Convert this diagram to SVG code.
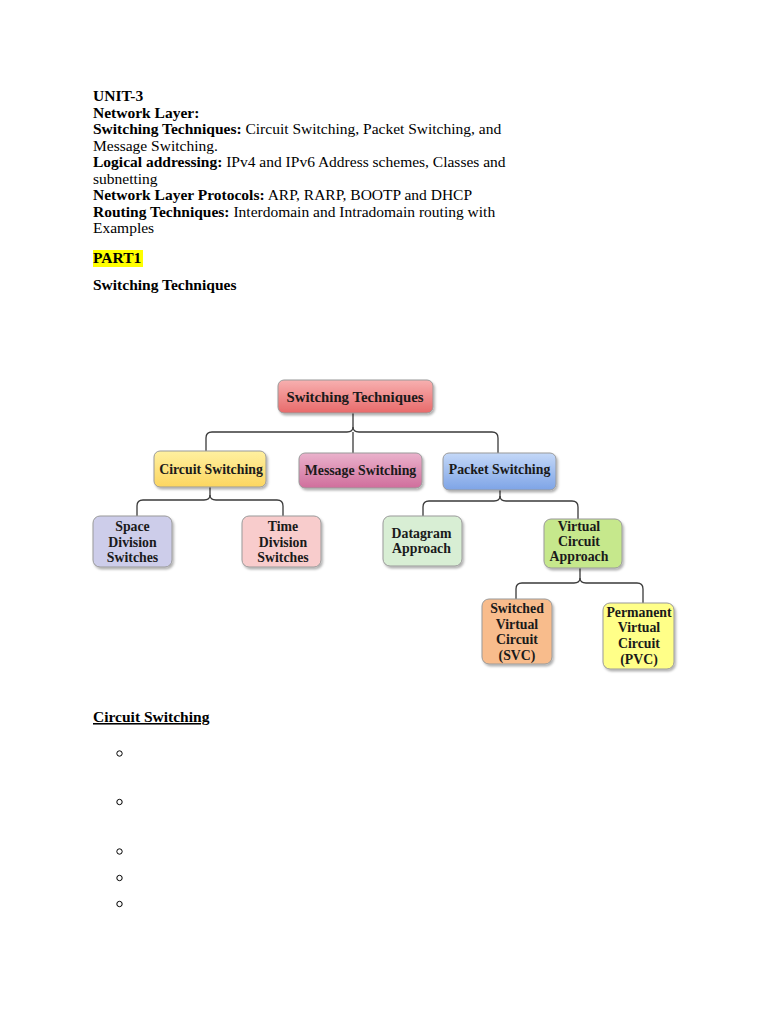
<svg xmlns="http://www.w3.org/2000/svg" width="768" height="1024" viewBox="0 0 768 1024">
<style>
.t{font-family:"Liberation Serif","Times New Roman",serif;font-size:15.5px;fill:#000}
.b{font-weight:bold}
.n{font-family:"Liberation Serif","Times New Roman",serif;font-size:13.8px;font-weight:bold;fill:#1a1a1a;text-anchor:middle}
.box{stroke:#9a9a9a;stroke-width:1;filter:url(#sh)}
.c{fill:none;stroke:#3a3a3a;stroke-width:1.3}
.bul{fill:none;stroke:#000;stroke-width:1}
</style>
<defs>
<filter id="sh" x="-10%" y="-10%" width="130%" height="140%">
<feDropShadow dx="1.5" dy="2" stdDeviation="1.2" flood-color="#000" flood-opacity="0.3"/>
</filter>
<linearGradient id="gRed" x1="0" y1="0" x2="0" y2="1"><stop offset="0" stop-color="#f7b0b0"/><stop offset="1" stop-color="#e86a6a"/></linearGradient>
<linearGradient id="gYel" x1="0" y1="0" x2="0" y2="1"><stop offset="0" stop-color="#fff0a0"/><stop offset="1" stop-color="#fcd660"/></linearGradient>
<linearGradient id="gPink" x1="0" y1="0" x2="0" y2="1"><stop offset="0" stop-color="#eab2cc"/><stop offset="1" stop-color="#d06e9c"/></linearGradient>
<linearGradient id="gBlue" x1="0" y1="0" x2="0" y2="1"><stop offset="0" stop-color="#c4d8f8"/><stop offset="1" stop-color="#7ea4e6"/></linearGradient>
</defs>
<rect width="768" height="1024" fill="#fff"/>

<g id="header">
<text class="t b" x="93" y="101">UNIT-3</text>
<text class="t b" x="93" y="117.5">Network Layer:</text>
<text class="t" x="93" y="134"><tspan class="b">Switching Techniques:</tspan> Circuit Switching, Packet Switching, and</text>
<text class="t" x="93" y="150.5">Message Switching.</text>
<text class="t" x="93" y="167"><tspan class="b">Logical addressing:</tspan> IPv4 and IPv6 Address schemes, Classes and</text>
<text class="t" x="93" y="183.5">subnetting</text>
<text class="t" x="93" y="200"><tspan class="b">Network Layer Protocols:</tspan> ARP, RARP, BOOTP and DHCP</text>
<text class="t" x="93" y="216.5"><tspan class="b">Routing Techniques:</tspan> Interdomain and Intradomain routing with</text>
<text class="t" x="93" y="233">Examples</text>
<rect x="93" y="250" width="50" height="17" fill="#ffff00"/>
<text class="t b" x="93" y="263">PART1</text>
<text class="t b" x="93" y="290">Switching Techniques</text>
</g>

<g id="connectors">
<path class="c" d="M353 413V427Q353 432 347 432H212Q206 432 206 438V451"/>
<path class="c" d="M353 427Q353 432 359 432H492Q498 432 498 438V453"/>
<path class="c" d="M353 432V453" stroke="#777"/>
<path class="c" d="M210 487V495Q210 500 204 500H143Q137 500 137 506V516"/>
<path class="c" d="M210 495Q210 500 216 500H277Q283 500 283 506V516"/>
<path class="c" d="M500 490V496Q500 501 494 501H429Q423 501 423 507V516"/>
<path class="c" d="M500 496Q500 501 506 501H572Q578 501 578 507V519"/>
<path class="c" d="M580 568V578Q580 583 574 583H522Q516 583 516 589V599"/>
<path class="c" d="M580 578Q580 583 586 583H637Q643 583 643 589V603"/>
</g>

<g id="n-switching">
<rect class="box" x="278" y="380" width="155" height="33" rx="6" fill="url(#gRed)"/>
<text class="n" x="355" y="401.5" style="font-size:14.8px">Switching Techniques</text>
</g>
<g id="n-circuit">
<rect class="box" x="154" y="451" width="112" height="36" rx="6" fill="url(#gYel)"/>
<text class="n" x="211" y="474">Circuit Switching</text>
</g>
<g id="n-message">
<rect class="box" x="299" y="453" width="123" height="35" rx="6" fill="url(#gPink)"/>
<text class="n" x="360.5" y="474.5">Message Switching</text>
</g>
<g id="n-packet">
<rect class="box" x="443" y="453" width="113" height="37" rx="6" fill="url(#gBlue)"/>
<text class="n" x="499.5" y="474">Packet Switching</text>
</g>
<g id="n-space">
<rect class="box" x="93" y="516" width="79" height="51" rx="7" fill="#cdcdea"/>
<text class="n" x="132.5" y="531">Space</text>
<text class="n" x="132.5" y="547">Division</text>
<text class="n" x="132.5" y="562">Switches</text>
</g>
<g id="n-time">
<rect class="box" x="242" y="516" width="79" height="51" rx="7" fill="#f8cccc"/>
<text class="n" x="283" y="531">Time</text>
<text class="n" x="283" y="547">Division</text>
<text class="n" x="283" y="562">Switches</text>
</g>
<g id="n-datagram">
<rect class="box" x="383" y="516" width="79" height="50" rx="7" fill="#d8eed4"/>
<text class="n" x="421.5" y="538">Datagram</text>
<text class="n" x="421.5" y="553">Approach</text>
</g>
<g id="n-vc">
<rect class="box" x="544" y="519" width="78" height="49" rx="7" fill="#c6e88c"/>
<text class="n" x="579" y="531">Virtual</text>
<text class="n" x="579" y="546">Circuit</text>
<text class="n" x="579" y="561">Approach</text>
</g>
<g id="n-svc">
<rect class="box" x="482" y="599" width="70" height="65" rx="7" fill="#f8bc8c"/>
<text class="n" x="517" y="613">Switched</text>
<text class="n" x="517" y="629">Virtual</text>
<text class="n" x="517" y="644">Circuit</text>
<text class="n" x="517" y="660">(SVC)</text>
</g>
<g id="n-pvc">
<rect class="box" x="603" y="603" width="71" height="66" rx="7" fill="#ffff88"/>
<text class="n" x="639" y="617">Permanent</text>
<text class="n" x="639" y="632">Virtual</text>
<text class="n" x="639" y="648">Circuit</text>
<text class="n" x="639" y="664">(PVC)</text>
</g>

<g id="section">
<text class="t b" x="93" y="722" text-decoration="underline">Circuit Switching</text>
<circle class="bul" cx="119.5" cy="753.5" r="2.7"/>
<circle class="bul" cx="119.5" cy="802" r="2.7"/>
<circle class="bul" cx="119.5" cy="851.5" r="2.7"/>
<circle class="bul" cx="119.5" cy="878" r="2.7"/>
<circle class="bul" cx="119.5" cy="904" r="2.7"/>
</g>
</svg>
